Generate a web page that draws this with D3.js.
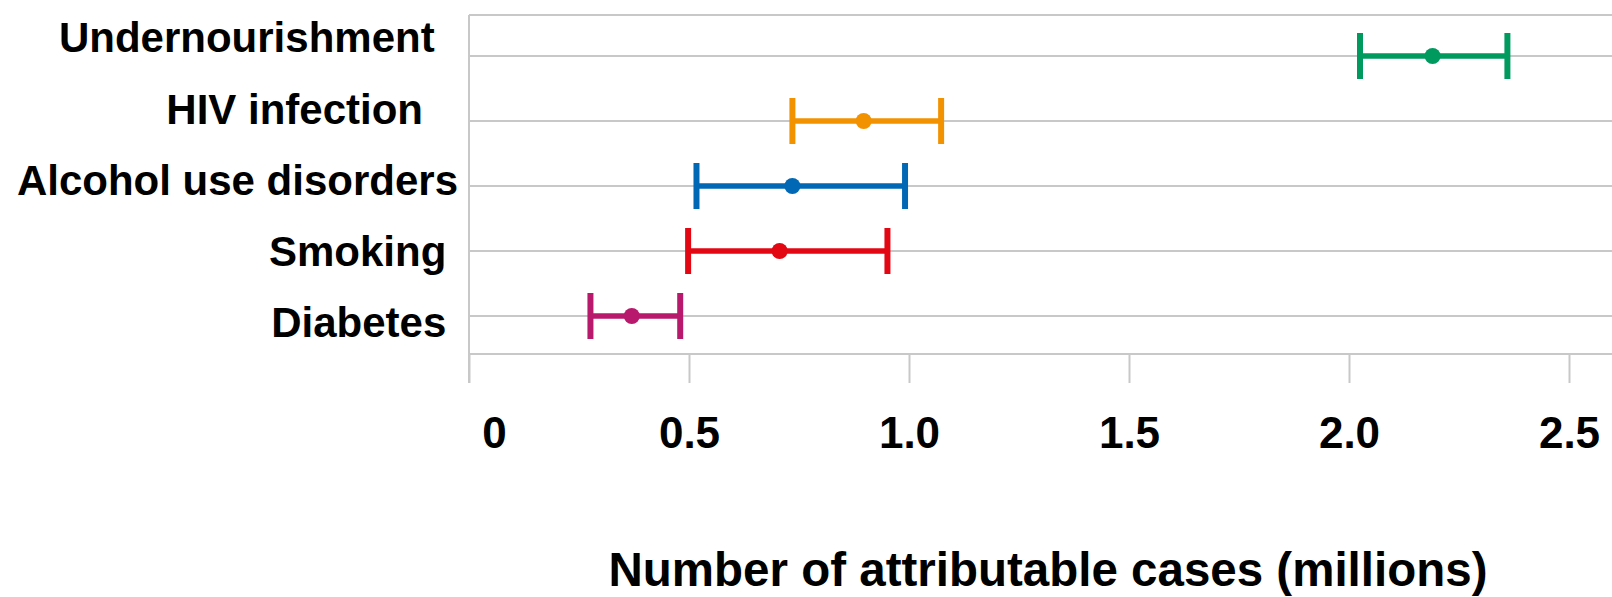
<!DOCTYPE html>
<html>
<head>
<meta charset="utf-8">
<script src="https://cdn.jsdelivr.net/npm/d3@7"></script>
<style>
  html, body { margin: 0; padding: 0; background: #fff; }
  svg { display: block; font-family: "Liberation Sans", Arial, sans-serif; }
  .label { white-space: pre; }
</style>
</head>
<body>
<svg id="chart"></svg>
<script>
// Risk factors (top to bottom) with point estimate and uncertainty interval, millions of cases
const categories = ["Undernourishment  ", "HIV infection   ", "Alcohol use disorders", "Smoking ", "Diabetes "];
const estimates = [2.19, 0.897, 0.735, 0.706, 0.370];
const lowerBounds = [2.025, 0.735, 0.517, 0.498, 0.276];
const upperBounds = [2.36, 1.073, 0.991, 0.951, 0.480];
const tickValues = [0, 0.5, 1.0, 1.5, 2.0, 2.5];
const tickLabels = ["0", "0.5", "1.0", "1.5", "2.0", "2.5"];
const axisTitle = "Number of attributable cases (millions)";

const palette = ["#009a5e", "#f39200", "#0068b4", "#e30613", "#b8196c"];

const width = 1612, height = 597;
const plot = { left: 469, right: 1612, top: 15, bottom: 354 };

const svg = d3.select("#chart")
    .attr("width", width)
    .attr("height", height);

const rows = categories.map((c, i) => ({
    name: c, est: estimates[i], lo: lowerBounds[i], hi: upperBounds[i], color: palette[i]
}));

// Scales
const x = d3.scaleLinear().domain([0, 2.5]).range([plot.left, 1569]);
const y = d3.scalePoint().domain(categories).range([56, 316]);
const labelY = d3.scaleBand().domain(categories).range([2, 358]);

// Horizontal gridlines: plot frame + one per category
const gridYs = [plot.top, ...categories.map(c => y(c)), plot.bottom];
svg.append("g")
    .selectAll("line")
    .data(gridYs)
    .join("line")
    .attr("x1", plot.left)
    .attr("x2", plot.right)
    .attr("y1", d => d)
    .attr("y2", d => d)
    .attr("stroke", "#c8c8c8")
    .attr("stroke-width", 2);

// Left axis line
svg.append("line")
    .attr("x1", plot.left).attr("x2", plot.left)
    .attr("y1", plot.top).attr("y2", plot.bottom + 29)
    .attr("stroke", "#c8c8c8")
    .attr("stroke-width", 2);

// Bottom axis
const xAxis = d3.axisBottom(x)
    .tickValues(tickValues)
    .tickFormat((d, i) => tickLabels[i])
    .tickSize(29)
    .tickPadding(34);

const axisG = svg.append("g")
    .attr("transform", `translate(0,${plot.bottom})`)
    .call(xAxis);

axisG.select(".domain").remove();
axisG.selectAll(".tick line")
    .attr("stroke", "#c8c8c8")
    .attr("stroke-width", 2);
axisG.selectAll(".tick text")
    .attr("fill", "#000")
    .style("font-family", "'Liberation Sans', Arial, sans-serif")
    .style("font-size", "44px")
    .style("font-weight", "bold");
// the zero label sits a little to the right of its tick
axisG.select(".tick text").attr("dx", 25);

// Category labels
svg.append("g")
    .selectAll("text")
    .data(categories)
    .join("text")
    .attr("class", "label")
    .attr("x", 458)
    .attr("y", d => labelY(d) + labelY.bandwidth() / 2)
    .attr("text-anchor", "end")
    .attr("dy", "0.35em")
    .style("font-size", "42px")
    .style("font-weight", "bold")
    .attr("fill", "#000")
    .text(d => d);

// Error bars
const capHalf = 23;
const bars = svg.append("g")
    .selectAll("g")
    .data(rows)
    .join("g")
    .attr("stroke", d => d.color)
    .attr("fill", d => d.color);

bars.append("line")
    .attr("x1", d => x(d.lo))
    .attr("x2", d => x(d.hi))
    .attr("y1", d => y(d.name))
    .attr("y2", d => y(d.name))
    .attr("stroke-width", 5.5);

bars.append("line")
    .attr("x1", d => x(d.lo))
    .attr("x2", d => x(d.lo))
    .attr("y1", d => y(d.name) - capHalf)
    .attr("y2", d => y(d.name) + capHalf)
    .attr("stroke-width", 6);

bars.append("line")
    .attr("x1", d => x(d.hi))
    .attr("x2", d => x(d.hi))
    .attr("y1", d => y(d.name) - capHalf)
    .attr("y2", d => y(d.name) + capHalf)
    .attr("stroke-width", 6);

bars.append("circle")
    .attr("cx", d => x(d.est))
    .attr("cy", d => y(d.name))
    .attr("r", 8)
    .attr("stroke", "none");

// Axis title
svg.append("text")
    .attr("x", 1048)
    .attr("y", 586)
    .attr("text-anchor", "middle")
    .style("font-size", "47.5px")
    .style("font-weight", "bold")
    .attr("fill", "#000")
    .text(axisTitle);
</script>
</body>
</html>
